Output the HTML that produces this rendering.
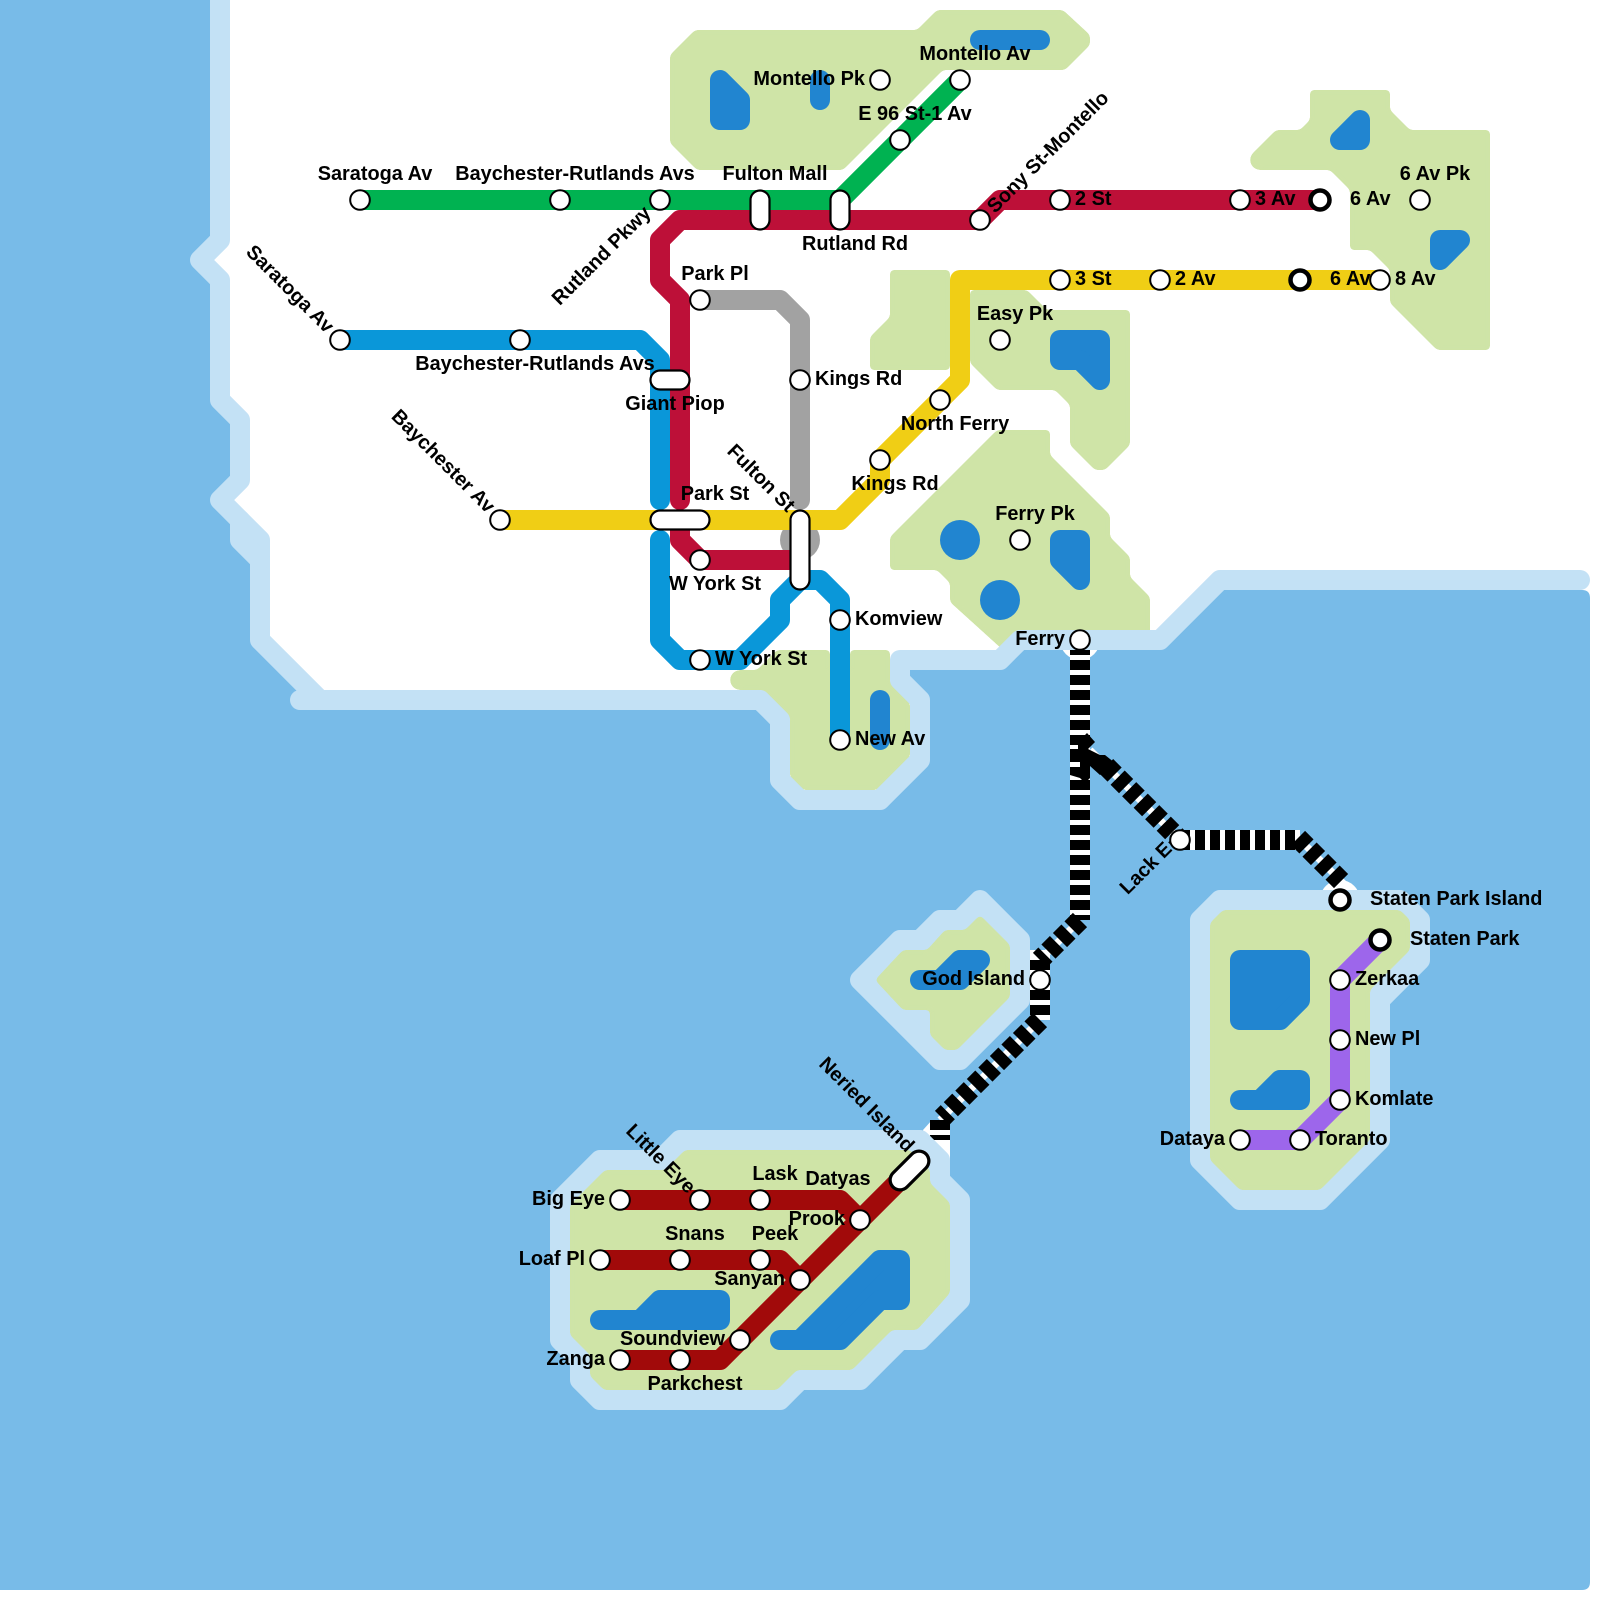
<!DOCTYPE html>
<html><head><meta charset="utf-8"><style>
html,body{margin:0;padding:0;background:#fff}
svg{display:block}
text{font-family:"Liberation Sans",sans-serif;font-weight:bold;font-size:19.9px;fill:#000}
.m{text-anchor:middle}.e{text-anchor:end}
.l{fill:none;stroke-width:20;stroke-linecap:round;stroke-linejoin:round}
.f{fill:none}
.fw{stroke:#fff;stroke-width:20}
.fn{stroke:#fff;stroke-width:7}
.fb{stroke:#000;stroke-width:20;stroke-dasharray:10 5}
.fd{stroke:#000;stroke-width:20;stroke-dasharray:12 4.3}
.s{fill:#fff;stroke:#000;stroke-width:2}
.t{fill:#fff;stroke:#000;stroke-width:4.5}
.p{fill:#fff;stroke:#000;stroke-width:2.2}
.k{fill:#2185D0;stroke:#2185D0;stroke-width:20;stroke-linejoin:round;stroke-linecap:round}
</style></head><body>
<svg width="1600" height="1600" viewBox="0 0 1600 1600" xmlns="http://www.w3.org/2000/svg">
<defs>
<filter id="g" filterUnits="userSpaceOnUse" x="0" y="0" width="1600" height="1600" color-interpolation-filters="sRGB">
<feGaussianBlur stdDeviation="2.5"/><feColorMatrix type="matrix" values="1 0 0 0 0 0 1 0 0 0 0 0 1 0 0 0 0 0 20 -9.5"/>
</filter>
</defs>
<rect width="1600" height="1600" fill="#fff"/>
<path fill="#78BBE8" d="M0,0L220,0L220,240L200,260L220,280L220,400L240,420L240,480L220,500L260,540L260,640L320,700L760,700L780,720L780,780L800,800L880,800L920,760L920,700L900,680L900,660L1000,660L1020,640L1160,640L1220,580L1582,590Q1590,590 1590,598L1590,1582Q1590,1590 1582,1590L0,1590Z"/>

<!-- ferry -->
<circle cx="1080" cy="640" r="20" fill="#fff"/>
<circle cx="1340" cy="900" r="20" fill="#fff"/>
<path fill="#fff" d="M923,1130L932,1120L950,1120L950,1160L930,1160Z"/>
<path fill="#fff" d="M1295,830L1312,847L1300,850Z"/>
<g class="f fw">
<path d="M1080,640L1080,920"/>
<path d="M1040,950L1040,1020"/>
<path d="M940,1120L940,1160"/>
<path d="M1180,840L1300,840"/>
</g>
<g class="f fn">
<path d="M1080,920L1040,960"/>
<path d="M1040,1020L940,1120"/>
<path d="M1180,840L1090,750"/>
<path d="M1300,840L1345,885"/>
</g>
<path class="f fb" stroke-dashoffset="10" d="M1080,640L1080,920"/>
<path class="f fb" d="M1040,960L1040,1020"/>
<path class="f fb" d="M940,1120L940,1140"/>
<path class="f fb" d="M1180,840L1296,840"/>
<path class="f fd" d="M1080,920L1040,960"/>
<path class="f fd" d="M1040,1020L942,1118"/>
<path class="f fd" stroke-dashoffset="5.3" d="M1180,840L1105,765"/>
<path class="f fd" d="M1298,838L1342,882"/>
<!-- tangle -->
<path fill="#000" d="M1080,740L1087,733L1095,742L1088,749L1100,755L1105,755L1115,763L1100,775L1090,766L1090,778L1085,783L1080,778L1070,775L1070,745Z"/>
<path fill="#fff" d="M1070,745h8v4h-8zM1070,762h10v5h-10z"/>

<!-- island shores -->
<g fill="#C3E1F5" stroke="#C3E1F5" stroke-width="20" stroke-linejoin="round">
<path d="M860,980L900,940L920,940L940,920L960,920L980,900L1020,940L1020,1000L960,1060L940,1060Z"/>
<path d="M560,1200L600,1160L660,1160L680,1140L920,1140L940,1160L940,1180L960,1200L960,1300L920,1340L900,1340L860,1380L800,1380L780,1400L600,1400L580,1380L580,1360L560,1340Z"/>
<path d="M1200,920L1220,900L1400,900L1420,920L1420,960L1380,1000L1380,1140L1320,1200L1240,1200L1200,1160Z"/>
</g>

<!-- parks -->
<g fill="#CFE4A7" filter="url(#g)">
<path d="M670,55L695,30L917,30L937,10L1063,10L1090,35L1090,45L1065,70L943,70L843,170L697,170L670,143Z"/>
<circle cx="1260" cy="160" r="10"/>
<path d="M1253,153L1276,130L1300,130L1310,120L1310,90L1390,90L1390,110L1410,130L1490,130L1490,350L1437,350L1390,303L1390,270L1370,250L1350,250L1350,190L1330,170L1260,170Z"/>
<path d="M890,270L950,270L950,370L870,370L870,337L890,317Z"/>
<path d="M970,290L1027,290L1047,310L1130,310L1130,445L1105,470L1095,470L1070,445L1070,405L1055,390L997,390L970,363Z"/>
<path d="M997,430L1050,430L1050,455L1110,515L1110,537L1130,557L1130,577L1150,597L1150,630L1150,650L1003,650L950,602L950,583L937,570L890,570L890,537Z"/>
<circle cx="740" cy="680" r="10"/>
<path d="M740,670L757,670L777,650L830,650L830,670L850,670L850,650L890,650L890,683L910,703L910,757L877,790L803,790L790,777L790,717L763,690L740,690Z"/>
<path d="M875,980L903,950L927,950L945,930L965,930L980,915L1010,945L1010,997L957,1050L945,1050L930,1035L930,1010L903,1010Z"/>
<path d="M570,1205L605,1170L665,1170L685,1150L910,1150L930,1170L930,1183L950,1203L950,1293L917,1330L892,1330L852,1370L797,1370L777,1390L604,1390L590,1376L590,1355L570,1335Z"/>
<path d="M1210,923L1223,910L1400,910L1410,920L1410,950L1370,990L1370,1140L1320,1190L1240,1190L1210,1160Z"/>
</g>

<!-- mainland shore -->
<g fill="none" stroke="#C3E1F5" stroke-width="20" stroke-linejoin="round" stroke-linecap="round">
<path d="M220,-10L220,240L200,260L220,280L220,400L240,420L240,480L220,500L260,540L260,640L320,700L760,700L780,720L780,780L800,800L880,800L920,760L920,700L900,680L900,660L1000,660L1020,640L1160,640L1220,580L1580,580"/>
<path d="M240,520L240,540L260,560"/>
<path d="M300,700L320,700"/>
</g>

<!-- lakes -->
<path class="k" d="M720,80L740,100L740,120L720,120Z"/>
<path class="k" d="M820,80L820,100"/>
<path class="k" d="M980,40L1040,40"/>
<path class="k" d="M1340,140L1360,120L1360,140Z"/>
<path class="k" d="M1440,240L1460,240L1440,260Z"/>
<path class="k" d="M1060,340L1100,340L1100,380L1080,360L1060,360Z"/>
<path class="k" d="M1060,540L1080,540L1080,580L1060,560Z"/>
<path class="k" d="M880,700L880,740"/>
<path class="k" d="M920,980L960,980L980,960L960,960L940,980Z"/>
<path class="k" d="M600,1320L640,1320L660,1300L720,1300L720,1320Z"/>
<path class="k" d="M780,1340L840,1340L880,1300L900,1300L900,1260L880,1260L800,1340Z"/>
<path class="k" d="M1240,960L1300,960L1300,1000L1280,1020L1240,1020Z"/>
<path class="k" d="M1240,1100L1260,1100L1280,1080L1300,1080L1300,1100Z"/>
<circle cx="960" cy="540" r="20" fill="#2185D0"/>
<circle cx="1000" cy="600" r="20" fill="#2185D0"/>

<!-- lines -->
<circle cx="800" cy="540" r="20" fill="#A2A2A2"/>
<path class="l" stroke="#A2A2A2" d="M700,300L780,300L800,320L800,500"/>
<path class="l" stroke="#0A97D9" d="M340,340L640,340L660,360L660,500"/>
<path class="l" stroke="#0A97D9" d="M660,540L660,640L680,660L740,660L780,620L780,600L800,580L820,580L840,600L840,740"/>
<path class="l" stroke="#00B251" d="M360,200L840,200L960,80"/>
<path class="l" stroke="#BD1038" d="M1320,200L1000,200L980,220L680,220L660,240L660,280L680,300L680,500"/>
<path class="l" stroke="#BD1038" d="M680,530L680,540L700,560L800,560"/>
<path class="l" stroke="#F0CE15" d="M500,520L840,520L880,480L880,460L960,380L960,280L1380,280"/>
<path class="l" stroke="#9D66EB" d="M1240,1140L1300,1140L1340,1100L1340,980L1380,940"/>
<g class="l" stroke="#A10A0A">
<path d="M620,1360L720,1360L920,1160"/>
<path d="M620,1200L840,1200L860,1220"/>
<path d="M600,1260L780,1260L800,1280"/>
</g>

<!-- pills -->
<rect class="p" x="750.5" y="190.5" width="19" height="39" rx="9.5"/>
<rect class="p" x="830.5" y="190.5" width="19" height="39" rx="9.5"/>
<rect class="p" x="650.5" y="370.5" width="39" height="19" rx="9.5"/>
<rect class="p" x="650.5" y="510.5" width="59" height="19" rx="9.5"/>
<rect class="p" x="790.5" y="510.5" width="19" height="79" rx="9.5"/>
<path d="M900,1180L919,1161" stroke="#000" stroke-width="23" stroke-linecap="round"/>
<path d="M900,1180L919,1161" stroke="#fff" stroke-width="16.5" stroke-linecap="round"/>

<!-- stations -->
<g class="s">
<circle cx="360" cy="200" r="9.8"/><circle cx="560" cy="200" r="9.8"/><circle cx="660" cy="200" r="9.8"/>
<circle cx="900" cy="140" r="9.8"/><circle cx="960" cy="80" r="9.8"/><circle cx="880" cy="80" r="9.8"/>
<circle cx="980" cy="220" r="9.8"/><circle cx="1060" cy="200" r="9.8"/><circle cx="1240" cy="200" r="9.8"/>
<circle cx="1060" cy="280" r="9.8"/><circle cx="1160" cy="280" r="9.8"/><circle cx="1380" cy="280" r="9.8"/>
<circle cx="1420" cy="200" r="9.8"/><circle cx="340" cy="340" r="9.8"/><circle cx="520" cy="340" r="9.8"/>
<circle cx="700" cy="300" r="9.8"/><circle cx="800" cy="380" r="9.8"/><circle cx="500" cy="520" r="9.8"/>
<circle cx="700" cy="560" r="9.8"/><circle cx="700" cy="660" r="9.8"/><circle cx="840" cy="620" r="9.8"/>
<circle cx="840" cy="740" r="9.8"/><circle cx="940" cy="400" r="9.8"/><circle cx="880" cy="460" r="9.8"/>
<circle cx="1000" cy="340" r="9.8"/><circle cx="1020" cy="540" r="9.8"/><circle cx="1080" cy="640" r="9.8"/>
<circle cx="1180" cy="840" r="9.8"/><circle cx="1040" cy="980" r="9.8"/>
<circle cx="1340" cy="980" r="9.8"/><circle cx="1340" cy="1040" r="9.8"/><circle cx="1340" cy="1100" r="9.8"/>
<circle cx="1300" cy="1140" r="9.8"/><circle cx="1240" cy="1140" r="9.8"/>
<circle cx="620" cy="1200" r="9.8"/><circle cx="700" cy="1200" r="9.8"/><circle cx="760" cy="1200" r="9.8"/>
<circle cx="860" cy="1220" r="9.8"/><circle cx="600" cy="1260" r="9.8"/><circle cx="680" cy="1260" r="9.8"/>
<circle cx="760" cy="1260" r="9.8"/><circle cx="800" cy="1280" r="9.8"/><circle cx="740" cy="1340" r="9.8"/>
<circle cx="620" cy="1360" r="9.8"/><circle cx="680" cy="1360" r="9.8"/>
</g>
<g class="t">
<circle cx="1320" cy="200" r="9.5"/><circle cx="1300" cy="280" r="9.5"/>
<circle cx="1340" cy="900" r="9.5"/><circle cx="1380" cy="940" r="9.5"/>
</g>

<!-- labels -->
<text class="m" x="375" y="180">Saratoga Av</text>
<text class="m" x="575" y="180">Baychester-Rutlands Avs</text>
<text class="m" x="775" y="180">Fulton Mall</text>
<text class="m" x="855" y="250">Rutland Rd</text>
<text class="e" x="865" y="85">Montello Pk</text>
<text class="m" x="975" y="60">Montello Av</text>
<text class="m" x="915" y="120">E 96 St-1 Av</text>
<text transform="translate(995,214) rotate(-45)">Sony St-Montello</text>
<text x="1075" y="205">2 St</text>
<text x="1255" y="205">3 Av</text>
<text x="1350" y="205">6 Av</text>
<text class="m" x="1435" y="180">6 Av Pk</text>
<text x="1075" y="285">3 St</text>
<text x="1175" y="285">2 Av</text>
<text x="1330" y="285">6 Av</text>
<text x="1395" y="285">8 Av</text>
<text class="m" x="715" y="280">Park Pl</text>
<text x="815" y="385">Kings Rd</text>
<text class="m" x="535" y="370">Baychester-Rutlands Avs</text>
<text class="m" x="675" y="410">Giant Piop</text>
<text class="m" x="715" y="500">Park St</text>
<text class="m" x="715" y="590">W York St</text>
<text x="715" y="665">W York St</text>
<text x="855" y="625">Komview</text>
<text x="855" y="745">New Av</text>
<text class="m" x="1015" y="320">Easy Pk</text>
<text class="m" x="955" y="430">North Ferry</text>
<text class="m" x="895" y="490">Kings Rd</text>
<text class="m" x="1035" y="520">Ferry Pk</text>
<text class="e" x="1065" y="645">Ferry</text>
<text class="e" transform="translate(1173,850) rotate(-45)">Lack E</text>
<text x="1370" y="905">Staten Park Island</text>
<text x="1410" y="945">Staten Park</text>
<text x="1355" y="985">Zerkaa</text>
<text x="1355" y="1045">New Pl</text>
<text x="1355" y="1105">Komlate</text>
<text x="1315" y="1145">Toranto</text>
<text class="e" x="1225" y="1145">Dataya</text>
<text class="e" x="1025" y="985">God Island</text>
<text transform="translate(818,1065) rotate(45)">Neried Island</text>
<text class="m" x="838" y="1185">Datyas</text>
<text class="e" x="845" y="1225">Prook</text>
<text class="m" x="775" y="1180">Lask</text>
<text transform="translate(625,1132) rotate(45)">Little Eye</text>
<text class="e" x="605" y="1205">Big Eye</text>
<text class="m" x="695" y="1240">Snans</text>
<text class="m" x="775" y="1240">Peek</text>
<text class="e" x="585" y="1265">Loaf Pl</text>
<text class="e" x="785" y="1285">Sanyan</text>
<text class="e" x="725" y="1345">Soundview</text>
<text class="e" x="605" y="1365">Zanga</text>
<text class="m" x="695" y="1390">Parkchest</text>
<text class="e" transform="translate(326,334) rotate(45)">Saratoga Av</text>
<text class="e" transform="translate(487,514) rotate(45)">Baychester Av</text>
<text class="e" transform="translate(787,513) rotate(45)">Fulton St</text>
<text class="e" transform="translate(652,214) rotate(-45)">Rutland Pkwy</text>
</svg>
</body></html>
